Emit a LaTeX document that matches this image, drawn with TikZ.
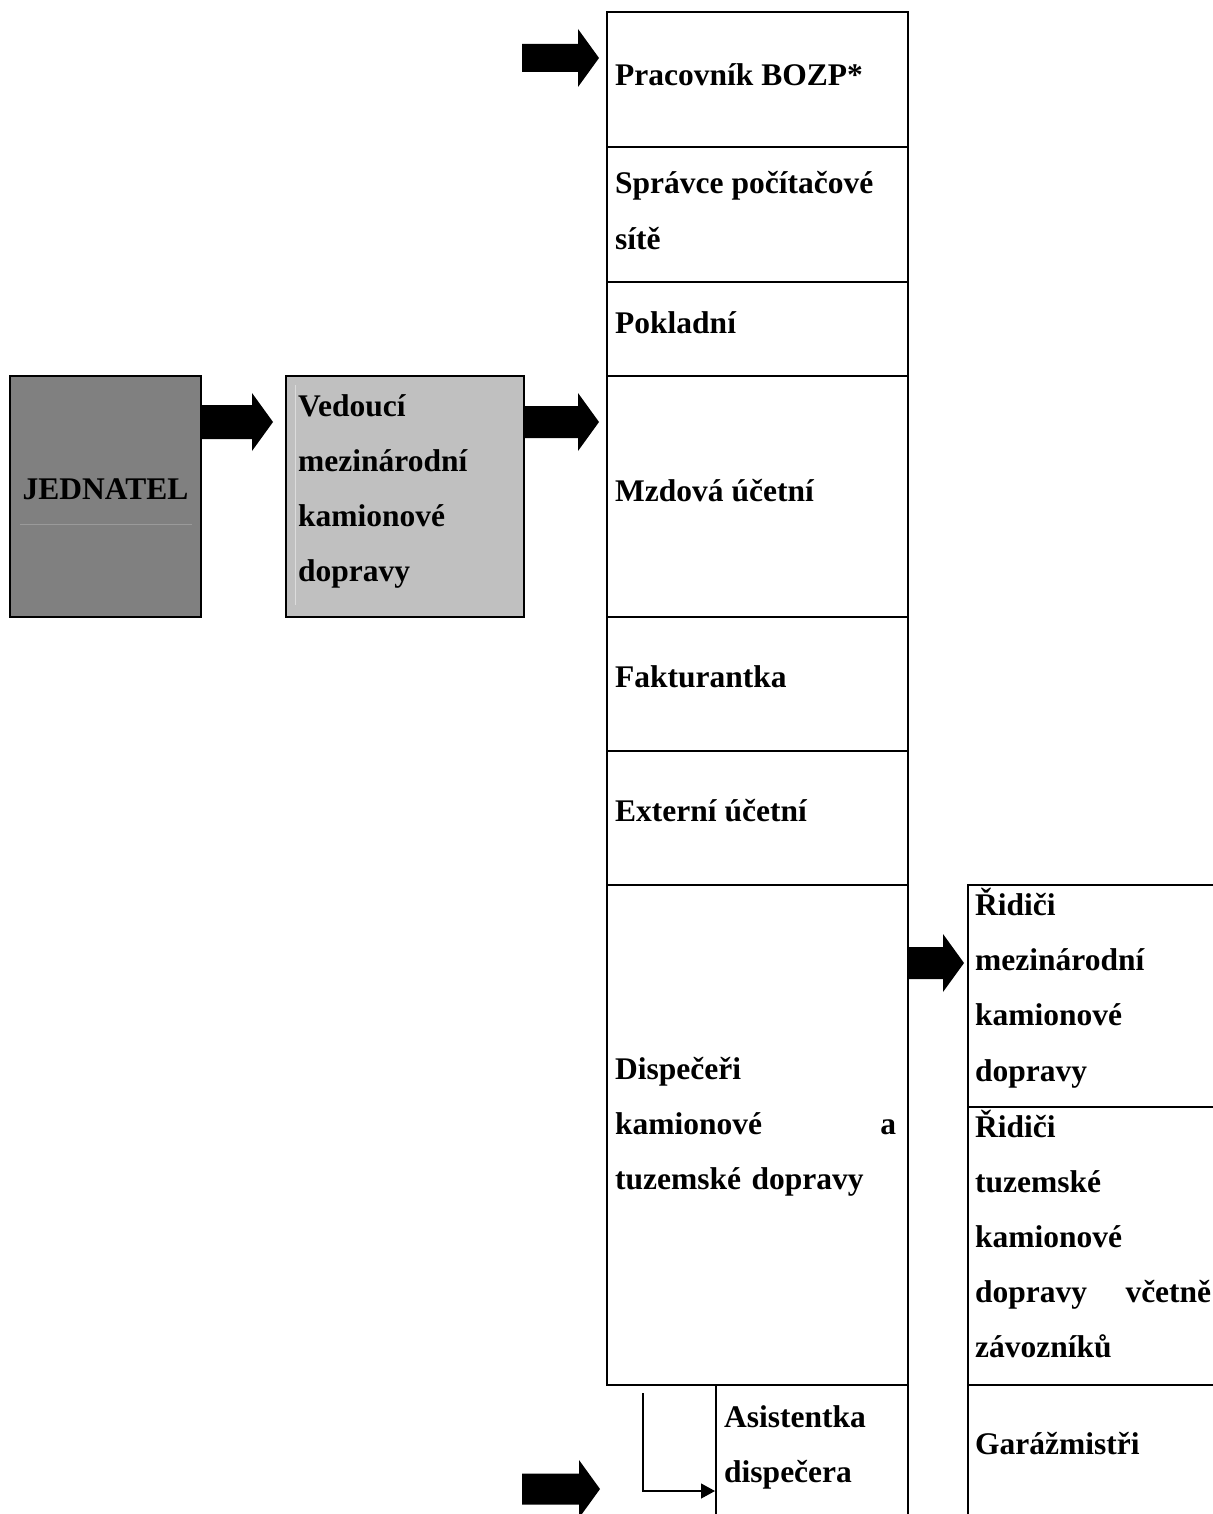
\documentclass[tikz,border=0pt]{standalone}
\usepackage{fontspec}
\setmainfont{Liberation Serif}
\usetikzlibrary{calc,arrows.meta}
\definecolor{darkbox}{HTML}{808080}
\definecolor{lightbox}{HTML}{C0C0C0}
\definecolor{faintdark}{HTML}{9A9A9A}
\definecolor{faintlight}{HTML}{DCDCDC}
\tikzset{
  box/.style={draw=black, line width=2.5pt, rectangle, inner sep=0pt, outer sep=0pt},
  lbl/.style={font=\bfseries\fontsize{31.5}{55.2}\selectfont, inner sep=0pt, align=left, anchor=west},
  thinconn/.style={draw=black, line width=1.2pt, -{Triangle[length=14pt,width=15pt]}}
}
% block arrow: #1 shaft half-height, #2 start point, #3 tip point (horizontal)
\newcommand\bigarrow[3][16]{%
  \fill[black] let \p1=(#2), \p2=(#3) in
    (\x1,\y1+#1pt) -- (\x2-21pt,\y1+#1pt) -- (\x2-21pt,\y1+29pt) -- (\x2,\y1)
    -- (\x2-21pt,\y1-29pt) -- (\x2-21pt,\y1-#1pt) -- (\x1,\y1-#1pt) -- cycle;}
\begin{document}
\begin{tikzpicture}[x=1pt,y=-1pt]
\useasboundingbox (0,0) rectangle (1212,1514);
% left boxes
\node[box, fill=darkbox, minimum width=191pt, minimum height=241pt] (jed) at (105.5,496.5) {};
\node[box, fill=lightbox, minimum width=238pt, minimum height=241pt] (ved) at (405,496.5) {};
\draw[faintdark, line width=1pt] ($(jed.west)+(10,27.5)$) -- ($(jed.east)+(-9,27.5)$);
\draw[faintlight, line width=1pt] ($(ved.north west)+(9.5,9)$) -- ($(ved.south west)+(9.5,-12)$);
% main column
\node[box, minimum width=301pt, minimum height=135pt] (bozp) at (757.5,79.5) {};
\node[box, minimum width=301pt, minimum height=135pt] (spr) at (757.5,214.5) {};
\node[box, minimum width=301pt, minimum height=94pt] (pok) at (757.5,329) {};
\node[box, minimum width=301pt, minimum height=241pt] (mzd) at (757.5,496.5) {};
\node[box, minimum width=301pt, minimum height=134pt] (fak) at (757.5,684) {};
\node[box, minimum width=301pt, minimum height=134pt] (ext) at (757.5,818) {};
\node[box, minimum width=301pt, minimum height=500pt] (disp) at (757.5,1135) {};
\node[box, minimum width=192pt, minimum height=135pt] (asist) at (812,1452.5) {};
% right column
\node[box, minimum width=248pt, minimum height=222pt] (rid1) at (1092,996) {};
\node[box, minimum width=248pt, minimum height=278pt] (rid2) at (1092,1246) {};
\node[box, minimum width=248pt, minimum height=135pt] (garaz) at (1092,1452.5) {};
% texts
\node[lbl, anchor=center] (tjed) at ($(jed.center)+(0,-7)$) {JEDNATEL};
\node[lbl, text width=214pt] (tved) at ($(ved.west)+(12,-5)$) {Vedoucí\\mezinárodní\\kamionové\\dopravy};
\node[lbl] (tbozp) at ($(bozp.west)+(8,-5)$) {Pracovník BOZP*};
\node[lbl] (tspr) at ($(spr.west)+(8,-4)$) {Správce počítačové\\sítě};
\node[lbl] (tpok) at ($(pok.west)+(8,-6)$) {Pokladní};
\node[lbl] (tmzd) at ($(mzd.west)+(8,-6)$) {Mzdová účetní};
\node[lbl] (tfak) at ($(fak.west)+(8,-7)$) {Fakturantka};
\node[lbl] (text) at ($(ext.west)+(8,-7)$) {Externí účetní};
\node[lbl, text width=281pt] (tdisp) at ($(disp.west)+(8,-8)$) {Dispečeři\\kamionové\hfill a\\tuzemské dopravy};
\node[lbl, text width=235pt] (trid1) at ($(rid1.west)+(7,-8)$) {Řidiči\\mezinárodní\\kamionové\\dopravy};
\node[lbl, text width=236pt] (trid2) at ($(rid2.west)+(7,-12)$) {Řidiči\\tuzemské\\kamionové\\dopravy\hfill včetně\\závozníků};
\node[lbl] (tgar) at ($(garaz.west)+(7,-9)$) {Garážmistři};
\node[lbl] (tasi) at ($(asist.west)+(8,-5)$) {Asistentka\\dispečera};
% free ends of arrows
\coordinate (topstart) at (522,58);
\coordinate (botstart) at (522,1489);
% block arrows
\bigarrow[17]{$(jed.north east)+(0,46)$}{$(ved.north west)+(-13,46)$}
\bigarrow{$(ved.north east)+(0,46)$}{$(mzd.north west)+(-8,46)$}
\bigarrow[14]{topstart}{$(bozp.north west)+(-8,46)$}
\bigarrow{$(disp.north east)+(0,78)$}{$(rid1.north west)+(-4,78)$}
\bigarrow[15.5]{botstart}{$(disp.south west)+(-7,104)$}
% thin connector to assistant
\draw[thinconn] ($(disp.south west)+(36,8)$) |- ($(asist.north west)+(-1,106)$);
\end{tikzpicture}
\end{document}
